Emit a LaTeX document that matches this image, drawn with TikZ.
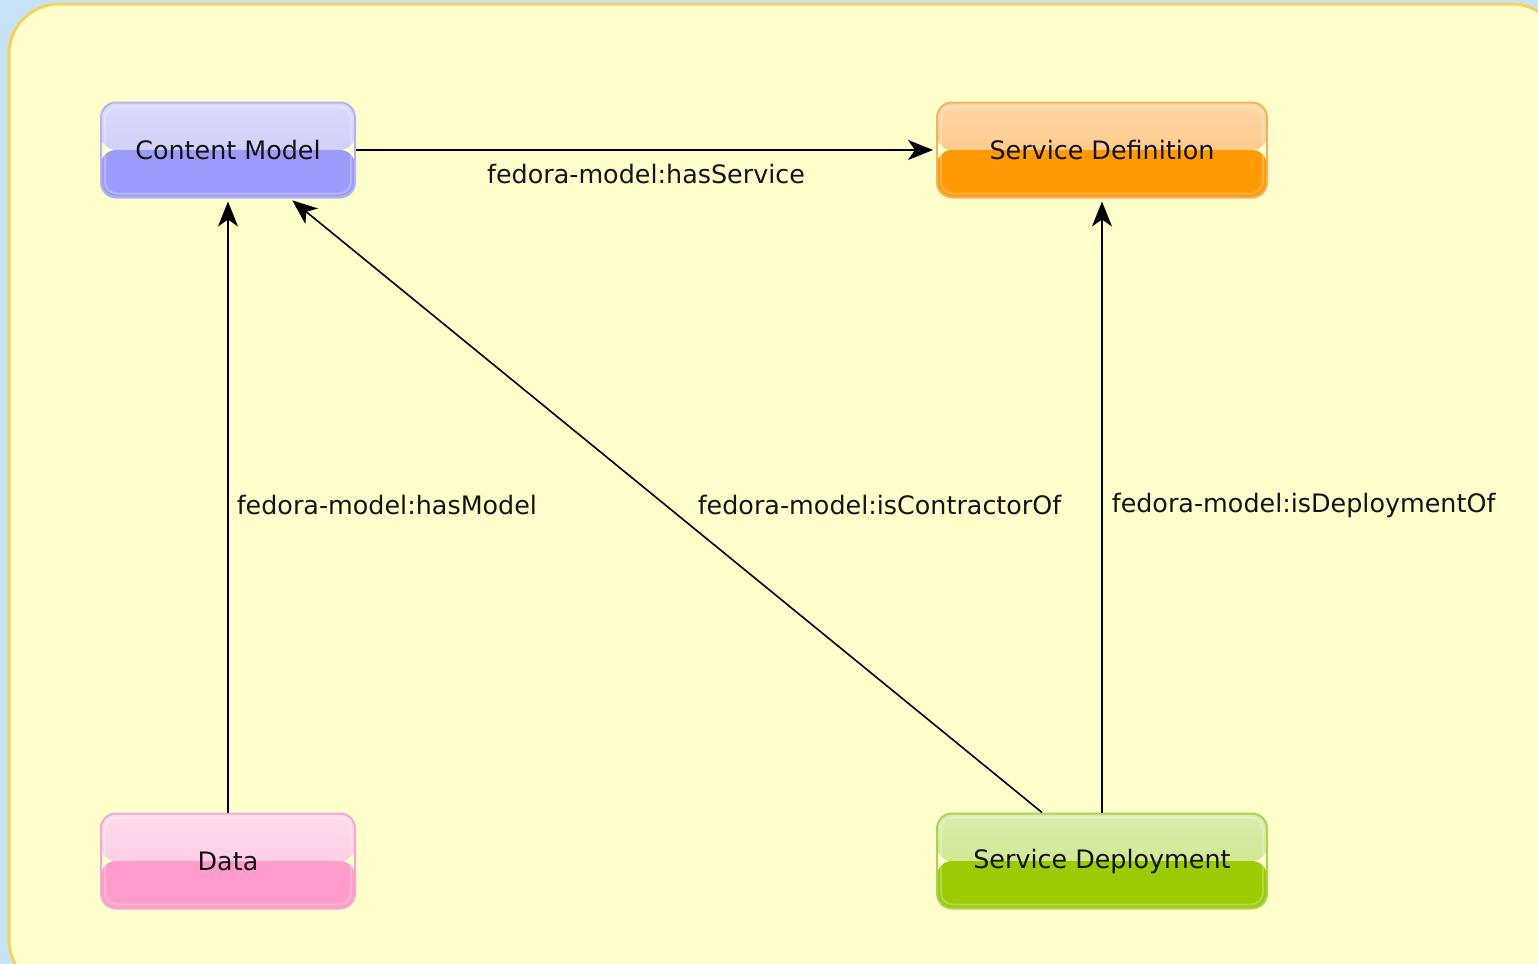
\documentclass[tikz,border=0pt]{standalone}
\usepackage{fontspec}
\setmainfont{DejaVu Sans}
\usetikzlibrary{calc,arrows.meta}

\definecolor{bgblue}{HTML}{C9E3F6}
\definecolor{panel}{HTML}{FFFFCC}
\definecolor{paneledge}{HTML}{F2D35E}
\definecolor{inktext}{HTML}{141414}
% node colours: light top, saturated bottom, outline
\definecolor{cmTop}{HTML}{C4C4FC}\definecolor{cmBot}{HTML}{9B9BFA}\definecolor{cmEdge}{HTML}{B4B4F2}
\definecolor{sdTop}{HTML}{FFBE70}\definecolor{sdBot}{HTML}{FF9A05}\definecolor{sdEdge}{HTML}{F2B462}
\definecolor{daTop}{HTML}{FFC2E0}\definecolor{daBot}{HTML}{FF9CCB}\definecolor{daEdge}{HTML}{F4A8D2}
\definecolor{spTop}{HTML}{C4E27A}\definecolor{spBot}{HTML}{9ACB05}\definecolor{spEdge}{HTML}{AED257}

\tikzset{
  objbox/.style n args={4}{
    rounded corners=7.5pt, draw=#3, line width=1pt,
    minimum width=#4, minimum height=47.5pt, inner sep=0pt,
    font=\fontsize{12.7pt}{15pt}\selectfont, text=inktext,
    path picture={
      \shade[top color=#1!60!white, bottom color=#1]
        (path picture bounding box.north west) rectangle (path picture bounding box.east);
      \fill[#2] (path picture bounding box.west) rectangle (path picture bounding box.south east);
      \draw[white, opacity=0.25, line width=1pt, rounded corners=6pt]
        ([shift={(2pt,-2pt)}]path picture bounding box.north west)
        rectangle ([shift={(-2pt,2pt)}]path picture bounding box.south east);
    }},
  rel/.style={draw=black, line width=0.8pt,
    -{Stealth[length=12.5pt, width=10pt, inset=3.5pt]}, shorten >=1.5pt},
  rellabel/.style={font=\fontsize{12.7pt}{15pt}\selectfont, text=inktext, inner sep=0pt}
}

\begin{document}
\begin{tikzpicture}[x=0.5pt, y=-0.5pt]
  \useasboundingbox (0,0) rectangle (1538,964);
  \fill[bgblue] (0,0) rectangle (1538,964);
  \begin{scope}
    \clip (0,0) rectangle (1538,964);
    \draw[paneledge, fill=panel, line width=1.5pt, rounded corners=25pt]
      (9,4) rectangle (1562,990);
  \end{scope}

  % objects
  \node[objbox={cmTop}{cmBot}{cmEdge}{127pt}] (cm)   at (228,150)  {Content Model};
  \node[objbox={sdTop}{sdBot}{sdEdge}{165pt}] (sdef) at (1102,150) {Service Definition};
  \node[objbox={daTop}{daBot}{daEdge}{127pt}] (data) at (228,861)  {Data};
  \node[objbox={spTop}{spBot}{spEdge}{165pt}] (sdep) at (1102,861) {Service Deployment};

  % relations
  \draw[rel] (cm.east) -- (sdef.west)
    node[rellabel, pos=0.5, anchor=center, yshift=-12pt] {fedora-model:hasService};
  \draw[rel] (data.north) -- (cm.south)
    node[rellabel, pos=0.5, anchor=west, xshift=4pt] {fedora-model:hasModel};
  \draw[rel] ($(sdep.north)+(-60,0)$) -- ($(cm.south)+(62,0)$)
    node[rellabel, pos=0.5, anchor=west, xshift=15.5pt] {fedora-model:isContractorOf};
  \draw[rel] (sdep.north) -- (sdef.south)
    node[rellabel, pos=0.5, anchor=west, xshift=4.5pt] {fedora-model:isDeploymentOf};
\end{tikzpicture}
\end{document}
